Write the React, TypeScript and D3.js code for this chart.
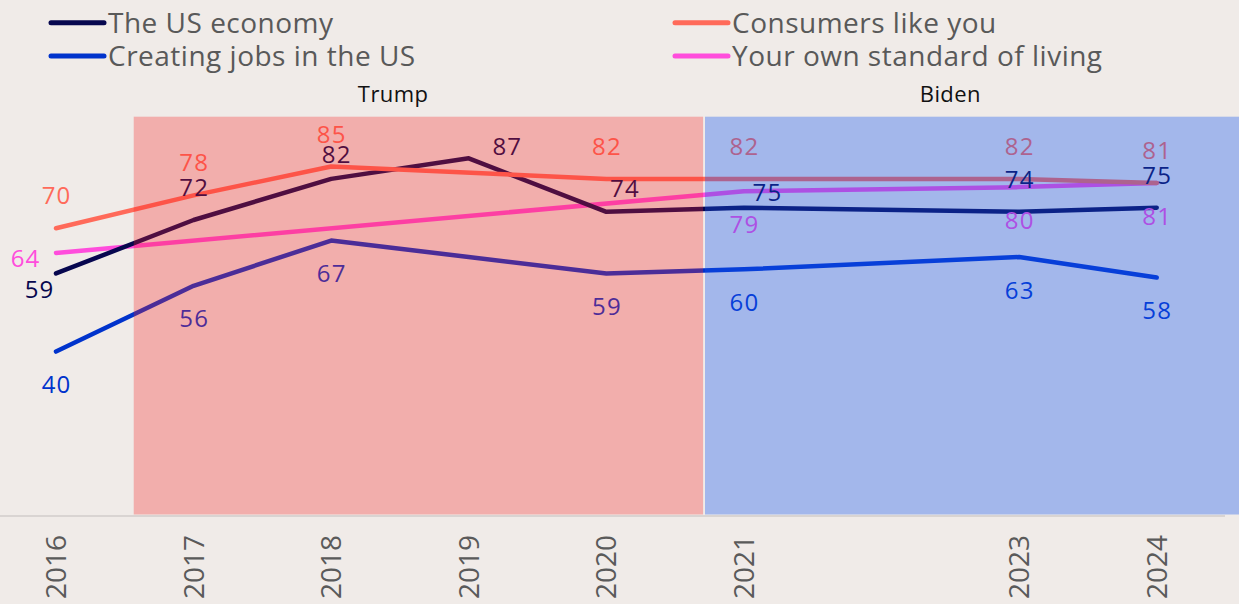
import React from "react";
import * as d3 from "d3";

const tickYears = [2016, 2017, 2018, 2019, 2020, 2021, 2023, 2024];

const usEconomyYears = [2016, 2017, 2018, 2019, 2020, 2021, 2023, 2024];
const usEconomy = [59, 72, 82, 87, 74, 75, 74, 75];

const consumersYears = [2016, 2017, 2018, 2020, 2021, 2023, 2024];
const consumers = [70, 78, 85, 82, 82, 82, 81];

const jobsYears = [2016, 2017, 2018, 2020, 2021, 2023, 2024];
const jobs = [40, 56, 67, 59, 60, 63, 58];

const livingYears = [2016, 2021, 2023, 2024];
const living = [64, 79, 80, 81];

const presidents = ["Trump", "Biden"];
const termStart = [2016.565, 2020.717];
const termEnd = [2020.703, 2024.62];

const W = 1239;
const H = 604;
const FONT = "'Open Sans', 'DejaVu Sans', sans-serif";

export default function App() {
  const x = d3.scaleLinear().domain([2016, 2024]).range([56, 1156.7]);
  const y = d3.scaleLinear().domain([0, 100]).range([516, 104.9]);

  const series = [
    { key: "us", name: "The US economy", color: "#07074f", years: usEconomyYears, values: usEconomy, pos: "above" },
    { key: "jobs", name: "Creating jobs in the US", color: "#0033cc", years: jobsYears, values: jobs, pos: "below" },
    { key: "cons", name: "Consumers like you", color: "#ff6a5a", years: consumersYears, values: consumers, pos: "above" },
    { key: "liv", name: "Your own standard of living", color: "#ff4ddc", years: livingYears, values: living, pos: "below" },
  ];
  const drawOrder = ["jobs", "liv", "us", "cons"];

  const overrides: Record<string, [number, number]> = {
    "us-2016": [-17, 25],
    "us-2018": [5, -16],
    "us-2019": [38, -3],
    "us-2020": [18, -14.5],
    "us-2021": [23, -7],
    "liv-2016": [-31, 14],
  };

  const line = d3
    .line<[number, number]>()
    .x((d) => x(d[0]))
    .y((d) => y(d[1]));

  const overlayFill = ["rgb(250,32,32)", "rgb(20,86,240)"];
  const overlayOpacity = [0.3, 0.35];
  const presLabelYear = [2018.45, 2022.5];

  const legendPos = [
    { x: 51, y: 22.7 },
    { x: 51, y: 56 },
    { x: 675, y: 22.7 },
    { x: 675, y: 56 },
  ];

  return (
    <svg
      width={W}
      height={H}
      style={{ position: "fixed", left: 0, top: 0, display: "block" }}
      fontFamily={FONT}
    >
      <rect x={0} y={0} width={W} height={H} fill="#f0ebe8" />
      <line x1={0} x2={1225} y1={y(0)} y2={y(0)} stroke="#d9d4d2" strokeWidth={2} />

      {drawOrder.map((k) => {
        const s = series.find((d) => d.key === k)!;
        const pts = s.years.map((yr, i) => [yr, s.values[i]] as [number, number]);
        return (
          <path
            key={k}
            d={line(pts) || ""}
            fill="none"
            stroke={s.color}
            strokeWidth={4.5}
            strokeLinecap="round"
            strokeLinejoin="round"
          />
        );
      })}

      {series.map((s) =>
        s.years.map((yr, i) => {
          const o = overrides[`${s.key}-${yr}`];
          const dx = o ? o[0] : 0;
          const dy = o ? o[1] : s.pos === "above" ? -24 : 41.5;
          return (
            <text
              key={`${s.key}-${yr}`}
              x={x(yr) + dx + 0.6}
              y={y(s.values[i]) + dy}
              textAnchor="middle"
              fontSize={24}
              letterSpacing={1.2}
              fill={s.color}
            >
              {s.values[i]}
            </text>
          );
        })
      )}

      {presidents.map((p, i) => (
        <g key={p}>
          <rect
            x={x(termStart[i])}
            y={116.7}
            width={x(termEnd[i]) - x(termStart[i])}
            height={y(0) - 1.5 - 116.7}
            fill={overlayFill[i]}
            fillOpacity={overlayOpacity[i]}
          />
          <text x={x(presLabelYear[i])} y={102.3} textAnchor="middle" fontSize={22} letterSpacing={0.4} fill="#111">
            {p}
          </text>
        </g>
      ))}

      {series.map((s, i) => (
        <g key={`leg-${s.key}`}>
          <line
            x1={legendPos[i].x}
            x2={legendPos[i].x + 53}
            y1={legendPos[i].y}
            y2={legendPos[i].y}
            stroke={s.color}
            strokeWidth={5}
            strokeLinecap="round"
          />
          <text
            x={legendPos[i].x + 57}
            y={legendPos[i].y + 10}
            fontSize={28}
            letterSpacing={0.5}
            fill="#595959"
          >
            {s.name}
          </text>
        </g>
      ))}

      {tickYears.map((yr) => (
        <text
          key={yr}
          transform={`translate(${x(yr)},535) rotate(-90)`}
          textAnchor="end"
          dy="0.36em"
          fontSize={28}
          fill="#5a5a5a"
        >
          {yr}
        </text>
      ))}
    </svg>
  );
}
